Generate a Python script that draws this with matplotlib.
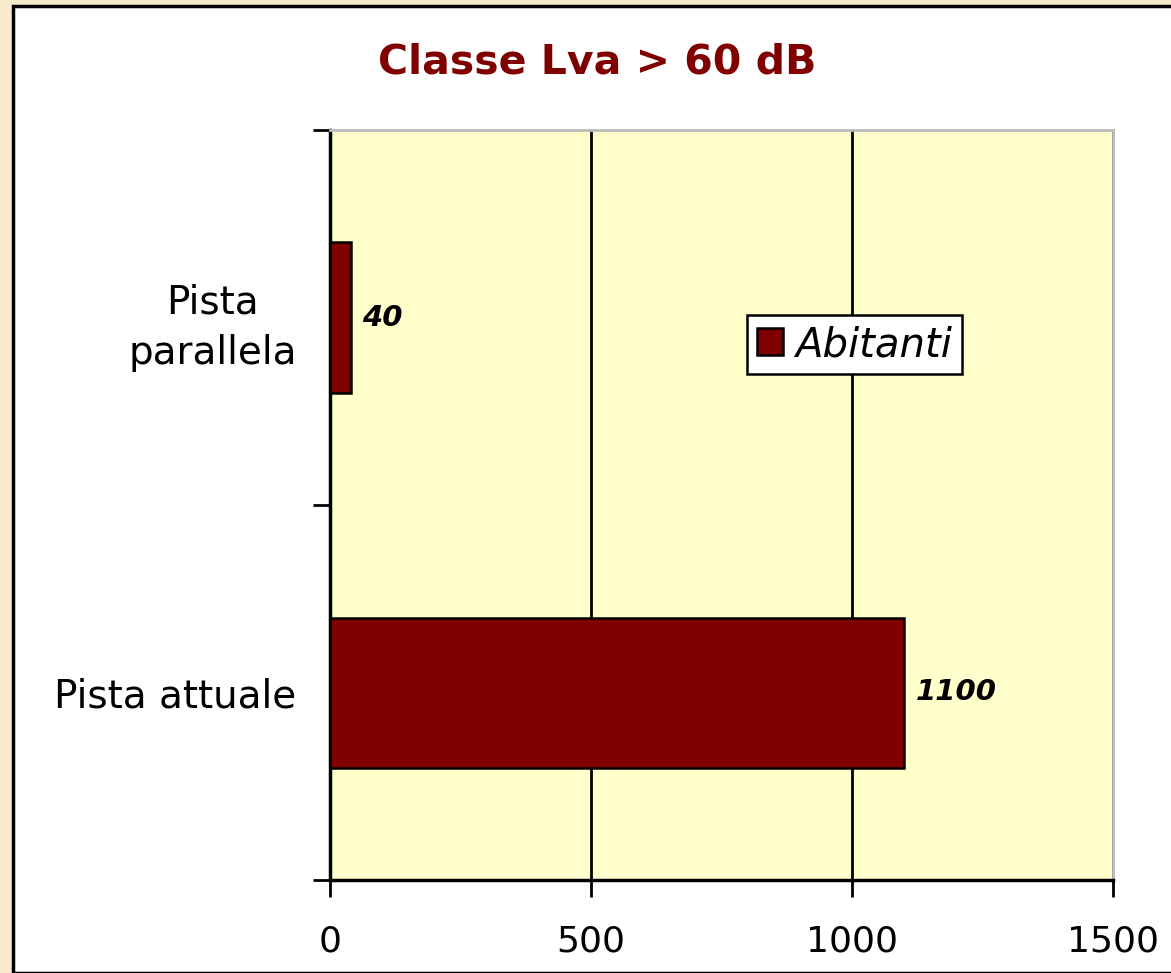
import matplotlib.pyplot as plt
from matplotlib.patches import Rectangle

categories = ['Pista attuale', 'Pista\nparallela']
abitanti = [1100, 40]
x_ticks = [0, 500, 1000, 1500]

dark_red = '#800000'

fig = plt.figure(figsize=(11.71, 9.73), dpi=100)
fig.patch.set_facecolor('#F8EBCD')

# white chart panel with black border
panel = Rectangle((13 / 1171, 0), 1.0, 1 - 6 / 973, transform=fig.transFigure,
                  facecolor='white', edgecolor='black', linewidth=2.5, zorder=-5)
fig.patches.append(panel)

ax = fig.add_axes([330 / 1171, 93 / 973, 783 / 1171, 750 / 973])
ax.set_facecolor('#FFFFCC')

pos = list(range(len(categories)))
bars = ax.barh(pos, abitanti, height=0.4, color=dark_red, edgecolor='black',
               linewidth=1.8, label='Abitanti', zorder=3)

for p, v in zip(pos, abitanti):
    ax.annotate(str(v), xy=(v, p), xytext=(8, 0), textcoords='offset points',
                va='center', ha='left', fontsize=21, fontweight='bold',
                fontstyle='italic', color='black', zorder=4)

ax.set_xlim(0, 1500)
ax.set_ylim(-0.5, 1.5)
ax.set_xticks(x_ticks)
ax.set_xticklabels([str(t) for t in x_ticks], fontsize=26)
ax.set_yticks([-0.5, 0.5, 1.5])
ax.set_yticklabels([])
ax.set_yticks(pos, minor=True)
ax.set_yticklabels(categories, minor=True, fontsize=28, multialignment='center',
                   linespacing=1.4)
ax.tick_params(axis='y', which='minor', length=0, pad=24)
ax.tick_params(axis='y', which='major', length=12, width=2, direction='out')
ax.tick_params(axis='x', length=12, width=2, direction='out', pad=20)

ax.grid(True, axis='x', color='black', linewidth=2, zorder=1)
ax.set_axisbelow(True)

for side in ['left', 'bottom']:
    ax.spines[side].set_linewidth(2.5)
    ax.spines[side].set_color('black')
for side in ['top', 'right']:
    ax.spines[side].set_linewidth(2)
    ax.spines[side].set_color('#BBBBBB')

fig.text(597 / 1171, 1 - 62 / 973, 'Classe Lva > 60 dB', ha='center', va='center',
         fontsize=29.5, fontweight='bold', color=dark_red)

leg = ax.legend(loc='upper left', bbox_to_anchor=(417 / 783, 1 - 185 / 750),
                prop={'style': 'italic', 'size': 29}, frameon=True,
                fancybox=False, edgecolor='black', framealpha=1,
                handlelength=0.65, handleheight=0.65, handletextpad=0.3,
                borderpad=0.25, borderaxespad=0)
leg.get_frame().set_linewidth(1.8)

plt.savefig('out.png', dpi=100, facecolor=fig.get_facecolor())
